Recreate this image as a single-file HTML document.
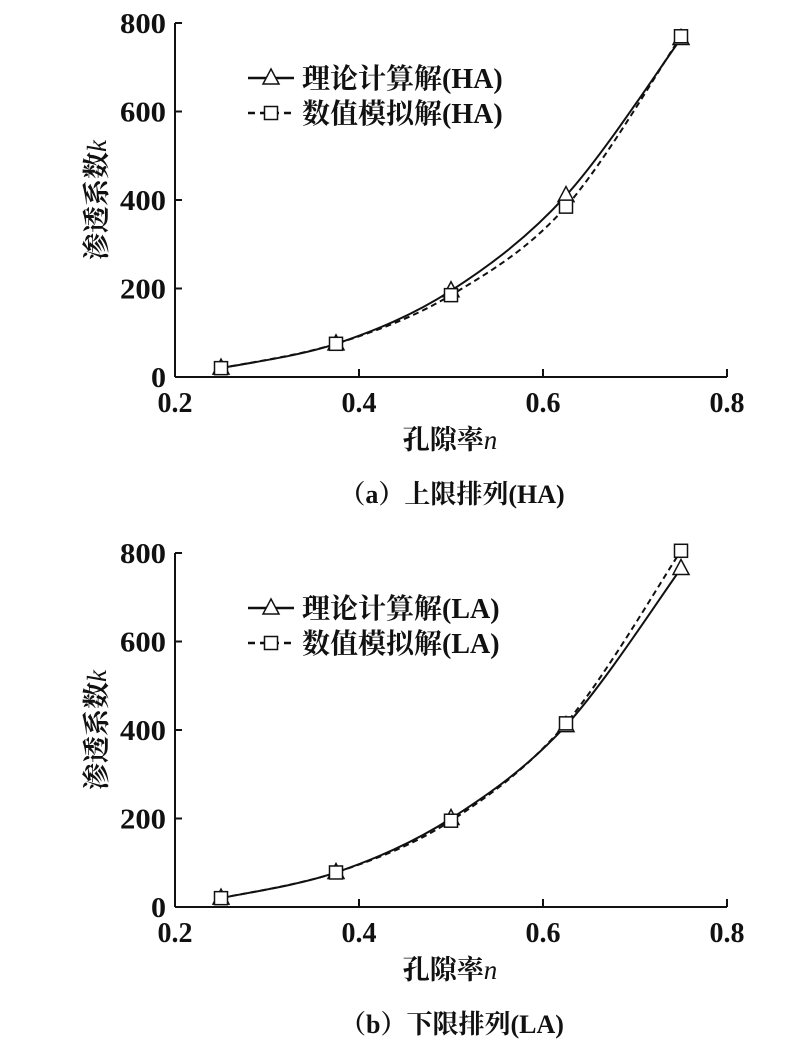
<!DOCTYPE html>
<html><head><meta charset="utf-8"><style>
body{margin:0;background:#fff;}
svg text{font-family:"Liberation Serif","Noto Serif CJK SC",serif;fill:#111;}
</style></head><body>
<svg id="s" width="794" height="1044" xmlns="http://www.w3.org/2000/svg"></svg>
<script>
const s=document.getElementById('s');
let h='';
function px(x){return 175+(x-0.2)/0.2*184;}
function path(pts){let d='M'+pts[0][0]+','+pts[0][1];
for(let i=0;i<pts.length-1;i++){const p0=pts[i-1]||pts[i],p1=pts[i],p2=pts[i+1],p3=pts[i+2]||p2;
d+=' C'+(p1[0]+(p2[0]-p0[0])/6)+','+(p1[1]+(p2[1]-p0[1])/6)+' '+(p2[0]-(p3[0]-p1[0])/6)+','+(p2[1]-(p3[1]-p1[1])/6)+' '+p2[0]+','+p2[1];}return d;}
function tri(x,y){return `<path d="M${x},${y-9} L${x-8},${y+6} L${x+8},${y+6} Z" fill="#fff" stroke="#111" stroke-width="1.5"/>`;}
function sq(x,y){return `<rect x="${x-6.5}" y="${y-6.5}" width="13" height="13" fill="#fff" stroke="#111" stroke-width="1.5"/>`;}
function chart(top,th,nu,tag,cap){
 const y0=top+354,py=v=>y0-v*354/800;
 h+=`<line x1="175" y1="${top}" x2="175" y2="${y0}" stroke="#111" stroke-width="2"/>`;
 h+=`<line x1="175" y1="${y0}" x2="727" y2="${y0}" stroke="#111" stroke-width="2"/>`;
 for(let i=0;i<=4;i++){const y=py(i*200);h+=`<line x1="175" y1="${y}" x2="182" y2="${y}" stroke="#111" stroke-width="2"/>`;
  h+=`<text x="166" y="${y+10}" text-anchor="end" font-size="28" font-weight="bold" textLength="${i?46:15}" lengthAdjust="spacingAndGlyphs">${i*200}</text>`;}
 for(let i=0;i<4;i++){const x=175+i*184;if(i>0)h+=`<line x1="${x}" y1="${y0}" x2="${x}" y2="${y0-8}" stroke="#111" stroke-width="2"/>`;
  h+=`<text x="${x}" y="${y0+35}" text-anchor="middle" font-size="28" font-weight="bold">${(0.2+i*0.2).toFixed(1)}</text>`;}
 const xs=[0.25,0.375,0.5,0.625,0.75];
 const a=xs.map((x,i)=>[px(x),py(th[i])]),b=xs.map((x,i)=>[px(x),py(nu[i])]);
 h+=`<path d="${path(a)}" fill="none" stroke="#111" stroke-width="2"/>`;
 h+=`<path d="${path(b)}" fill="none" stroke="#111" stroke-width="2" stroke-dasharray="6,4"/>`;
 a.forEach(p=>h+=tri(p[0],p[1]));b.forEach(p=>h+=sq(p[0],p[1]));
 const ly=top+55;
 h+=`<line x1="248" y1="${ly}" x2="294" y2="${ly}" stroke="#111" stroke-width="2.5"/>`+tri(271,ly);
 h+=`<text x="302" y="${ly+10}" font-size="28" font-weight="bold">理论计算解(${tag})</text>`;
 h+=`<line x1="248" y1="${ly+35}" x2="294" y2="${ly+35}" stroke="#111" stroke-width="2.5" stroke-dasharray="7,5"/>`+sq(271,ly+35);
 h+=`<text x="302" y="${ly+45}" font-size="28" font-weight="bold">数值模拟解(${tag})</text>`;
 h+=`<text transform="translate(106,${top+177}) rotate(-90)" text-anchor="middle" font-size="27" font-weight="bold">渗透系数<tspan font-style="italic" font-weight="normal">k</tspan></text>`;
 h+=`<text x="450" y="${y0+72}" text-anchor="middle" font-size="27" font-weight="bold">孔隙率<tspan font-style="italic" font-weight="normal">n</tspan></text>`;
 h+=`<text x="452" y="${y0+126}" text-anchor="middle" font-size="26" font-weight="bold">${cap}</text>`;
}
chart(23,[20,75,195,410,765],[20,75,185,385,770],'HA','（a）上限排列(HA)');
chart(553,[20,78,200,410,765],[20,78,195,415,805],'LA','（b）下限排列(LA)');
s.innerHTML=h;
</script>
</body></html>
